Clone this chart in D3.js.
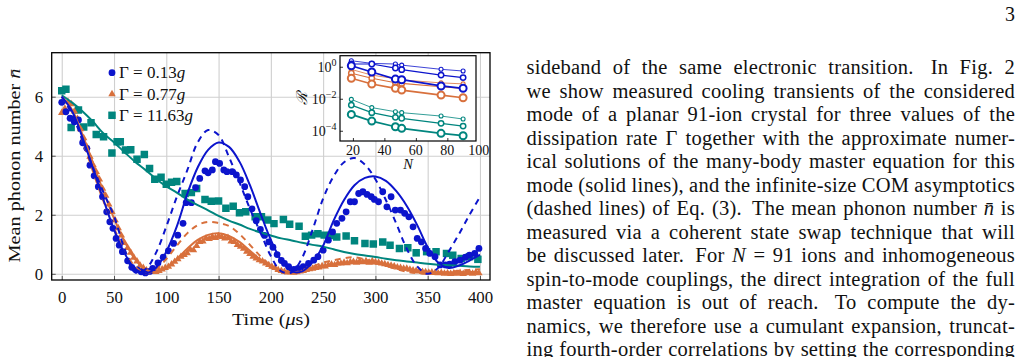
<!DOCTYPE html>
<html><head><meta charset="utf-8">
<script src="https://cdn.jsdelivr.net/npm/d3@7"></script>
<style>
html,body{margin:0;padding:0;background:#fff;overflow:hidden;}
svg{display:block;}
text{font-family:"Liberation Serif","Times New Roman",serif;fill:#111;}
</style></head><body>
<svg id="c" width="1023" height="357"></svg>
<script>
// ---------------- DATA ----------------
const xTicks = [0,50,100,150,200,250,300,350,400];
const yTicks = [0,2,4,6];
const legendLabels = ["0.13","0.77","11.63"];

const blueT = [0,4,8,12,16,20,24,27,31,35,39,43,46,49,52,55,58,63,67,72,76,80,84,87,92,97,102,107,111,116,119,124,128,132,137,140,144,147,151,155,158,163,167,171,175,178,182,186,190,194,198,202,206,210,213,217,222,226,231,236,241,245,250,255,259,263,268,272,276,280,284,288,292,296,299,303,307,311,315,319,324,328,332,336,340,344,348,352,357,362,367,371,376,381,386,390,395,399];
const blueN = [5.81,5.49,5.27,5.15,5.21,4.44,4.25,3.68,3.32,2.95,2.61,2.1,1.76,1.54,1.2,0.97,0.75,0.44,0.22,0.13,0.07,0.03,0.08,0.18,0.37,0.56,0.78,1.03,1.31,1.71,2.41,2.41,2.92,3.23,3.49,3.42,3.52,3.8,3.74,3.52,3.46,3.46,3.35,3.18,2.95,2.61,2.2,1.8,1.5,1.3,1.08,0.9,0.65,0.45,0.35,0.24,0.15,0.18,0.24,0.35,0.46,0.58,0.8,1.14,1.42,1.71,1.88,2.1,2.44,2.44,2.72,2.78,2.69,2.61,2.52,2.44,2.78,2.27,2.61,2.16,2.16,2.05,1.93,1.59,1.2,1.08,0.86,0.69,0.58,0.3,0.3,0.33,0.41,0.46,0.56,0.63,0.69,0.86];

const orangeT = [0,3,6,9,12,15,18,21,24,27,30,33,36,39,42,45,48,51,54,57,60,63,66,69,72,75,78,81,84,87,90,93,96,99,102,105,108,111,114,117,120,123,126,129,132,135,138,141,144,147,150,153,156,159,162,165,168,171,174,177,180,183,186,189,192,195,198,201,204,207,210,213,216,219,222,225,228,231,234,237,240,243,246,249,252,255,258,261,264,267,270,273,276,279,282,285,288,291,294,297,300,303,306,309,312,315,318,321,324,327,330,333,336,339,342,345,348,351,354,357,360,363,366,369,372,375,378,381,384,387,390,393,396,399];
const orangeN = [5.45,5.6,5.83,5.75,5.5,5.25,4.9,4.6,4.3,3.97,
 3.68,3.45,3.2,2.89,2.65,2.35,2.1,1.82,1.55,1.3,
 1.05,0.88,0.72,0.55,0.42,0.28,0.2,0.12,0.08,0.07,
 0.07,0.1,0.15,0.2,0.24,0.32,0.41,0.5,0.58,0.64,
 0.7,0.82,0.8,0.95,1.08,1.1,1.2,1.18,1.25,1.22,
 1.28,1.25,1.2,1.22,1.1,1.08,0.98,0.92,0.85,0.75,
 0.68,0.58,0.52,0.46,0.42,0.35,0.3,0.24,0.2,0.13,
 0.1,0.07,0.05,0.06,0.04,0.06,0.08,0.1,0.13,0.16,
 0.18,0.2,0.22,0.26,0.25,0.3,0.32,0.3,0.35,0.35,
 0.38,0.36,0.4,0.41,0.38,0.42,0.4,0.43,0.38,0.43,
 0.4,0.38,0.35,0.33,0.3,0.28,0.25,0.22,0.2,0.18,
 0.18,0.14,0.12,0.1,0.08,0.07,0.06,0.04,0.05,0.03,
 0.02,0.03,0.01,0.02,0.0,0.02,0.01,0.03,0.0,0.02,
 0.03,0.01,0.04,0.02];

const tealT = [0,4,9,16,21,28,33,40,48,53,56,61,66,72,79,84,89,95,100,105,110,118,124,129,137,143,150,157,164,170,176,185,191,197,203,212,218,227,233,239,245,251,257,263,272,280,290,298,307,314,323,331,339,349,358,368,374,382,390,398];
const tealN = [6.2,6.25,4.96,5.55,4.97,5.12,4.72,4.64,4.09,4.47,4.47,4.19,4.2,3.88,4.04,3.57,3.2,3.27,3.03,3.1,3.13,2.72,2.75,2.89,2.52,2.46,2.47,2.22,2.29,2.07,2.1,1.93,1.93,1.82,1.7,1.84,1.68,1.61,1.27,1.31,1.36,1.31,1.3,1.25,1.28,1.12,1.03,1.01,1.08,0.97,0.86,0.88,0.71,0.75,0.75,0.69,0.63,0.52,0.58,0.49];

// theory curves, sampled every 10 us
const curveT = [0,10,20,30,40,50,60,70,80,90,100,110,120,130,140,150,160,170,180,190,200,210,220,230,240,250,260,270,280,290,300,310,320,330,340,350,360,370,380,390,400];
const blueSolid  = [6.0,5.5,4.6,3.55,2.5,1.5,0.7,0.18,0.02,0.2,0.75,1.6,2.7,3.6,4.2,4.45,4.3,3.8,3.0,2.05,1.15,0.45,0.08,0.08,0.4,0.95,1.8,2.5,3.0,3.25,3.3,3.15,2.8,2.3,1.65,0.9,0.38,0.2,0.28,0.45,0.65];
const blueDashed = [6.0,5.4,4.5,3.6,2.75,1.95,0.85,0.05,0.15,0.7,1.6,2.6,3.5,4.45,4.87,4.7,3.95,3.1,2.2,1.4,0.6,0.08,0.05,0.55,1.5,2.55,3.3,3.78,3.92,3.7,3.2,2.5,1.7,0.85,0.25,0.0,0.2,0.75,1.35,2.0,2.6];
const orangeSolid  = [6.0,5.55,4.7,3.75,2.78,1.88,1.1,0.5,0.15,0.06,0.2,0.5,0.85,1.15,1.32,1.37,1.28,1.08,0.78,0.48,0.22,0.08,0.05,0.08,0.16,0.25,0.31,0.35,0.37,0.37,0.35,0.3,0.23,0.16,0.1,0.06,0.04,0.04,0.05,0.06,0.07];
const orangeDashed = [6.0,5.45,4.5,3.45,2.45,1.55,0.8,0.25,0.02,0.15,0.5,0.95,1.37,1.65,1.76,1.72,1.62,1.35,0.98,0.6,0.28,0.06,0.03,0.12,0.25,0.38,0.46,0.53,0.56,0.49,0.4,0.28,0.16,0.07,0.02,0.0,0.02,0.06,0.1,0.13,0.15];
const tealSolid = [6.05,5.8,5.5,5.15,4.75,4.45,4.12,3.8,3.52,3.22,2.96,2.75,2.52,2.33,2.15,1.96,1.8,1.67,1.52,1.4,1.3,1.2,1.13,1.05,0.98,0.92,0.83,0.74,0.67,0.62,0.57,0.51,0.46,0.42,0.38,0.34,0.31,0.29,0.27,0.25,0.24];

// inset: ratio R versus ion number N
const insetN = [19,32,47,51,76,90];
const insetXTicks = [20,40,60,80,100];
const insetYExp = [0,-2,-4];
const blueR1 = [2.37,1.62,1.48,1.26,0.69,0.54];
const blueR2 = [1.48,1.48,0.83,0.66,0.30,0.21];
const blueR3 = [1.15,0.47,0.17,0.155,0.063,0.045];
const orangeR1 = [0.68,0.30,0.18,0.15,0.098,0.085];
const orangeR2 = [0.39,0.19,0.10,0.091,0.056,0.045];
const orangeR3 = [0.19,0.083,0.045,0.035,0.017,0.0115];
const tealR1 = [0.0091,0.0028,0.00155,0.00135,0.00083,0.00054];
const tealR2 = [0.004,0.00135,0.00069,0.0006,0.00029,0.000195];
const tealR3 = [0.00105,0.0004,0.000178,0.000141,0.000069,0.000049];

const textLines = [
 "sideband of the same electronic transition.  In Fig. 2",
 "we show measured cooling transients of the considered",
 "mode of a planar 91-ion crystal for three values of the",
 "dissipation rate Γ together with the approximate numer-",
 "ical solutions of the many-body master equation for this",
 "mode (solid lines), and the infinite-size COM asymptotics",
 "(dashed lines) of Eq. (3).  The mean phonon number *n\u0304* is",
 "measured via a coherent state swap technique that will",
 "be discussed later.  For *N* = 91 ions and inhomogeneous",
 "spin-to-mode couplings, the direct integration of the full",
 "master equation is out of reach.  To compute the dy-",
 "namics, we therefore use a cumulant expansion, truncat-",
 "ing fourth-order correlations by setting the corresponding"
];

// ---------------- DRAW ----------------
const SERIF="Liberation Serif";
const BLUE="#0c14cc", ORANGE="#d8703c", TEAL="#00857e";
const svg=d3.select("#c");
const X0=51.7, X1=490, Y0=52.7, Y1=280;
const x=d3.scaleLinear().domain([-9.6,409.6]).range([X0,X1]);
const y=d3.scaleLinear().domain([-0.21,7.49]).range([Y1,Y0]);

// grid
svg.append("g").attr("transform",`translate(0,${Y1})`)
 .call(d3.axisBottom(x).tickValues(xTicks).tickSize(-(Y1-Y0)).tickFormat(""))
 .call(g=>{g.select(".domain").remove();g.selectAll("line").attr("stroke","#cfcfcf").attr("stroke-width",1.1);});
svg.append("g").attr("transform",`translate(${X0},0)`)
 .call(d3.axisLeft(y).tickValues(yTicks).tickSize(-(X1-X0)).tickFormat(""))
 .call(g=>{g.select(".domain").remove();g.selectAll("line").attr("stroke","#cfcfcf").attr("stroke-width",1.1);});

// tick marks + labels
svg.append("g").attr("transform",`translate(0,${Y1})`)
 .call(d3.axisBottom(x).tickValues(xTicks).tickSizeInner(-4).tickSizeOuter(0).tickPadding(10.8))
 .call(g=>{g.select(".domain").remove();g.selectAll("line").attr("stroke","#555");
   g.selectAll("text").attr("font-size","16.8px").attr("font-family",SERIF).attr("fill","#111");});
svg.append("g").attr("transform",`translate(${X0},0)`)
 .call(d3.axisLeft(y).tickValues(yTicks).tickSizeInner(-4).tickSizeOuter(0).tickPadding(8.5))
 .call(g=>{g.select(".domain").remove();g.selectAll("line").attr("stroke","#555");
   g.selectAll("text").attr("font-size","16.8px").attr("font-family",SERIF).attr("fill","#111");});

svg.append("clipPath").attr("id","pc").append("rect").attr("x",X0).attr("y",Y0).attr("width",X1-X0).attr("height",Y1-Y0);
const plot=svg.append("g").attr("clip-path","url(#pc)");

const zip=(a,b)=>a.slice(0,Math.min(a.length,b.length)).map((v,i)=>[v,b[i]]);

// scatter
plot.append("g").selectAll("path").data(zip(tealT,tealN)).join("path")
 .attr("d",d3.symbol().type(d3.symbolSquare).size(56)())
 .attr("transform",d=>`translate(${x(d[0])},${y(d[1])})`).attr("fill",TEAL);
plot.append("g").selectAll("path").data(zip(orangeT,orangeN)).join("path")
 .attr("d",d3.symbol().type(d3.symbolTriangle).size(24)())
 .attr("transform",d=>`translate(${x(d[0])},${y(d[1])})`).attr("fill",ORANGE);
plot.append("g").selectAll("circle").data(zip(blueT,blueN)).join("circle")
 .attr("cx",d=>x(d[0])).attr("cy",d=>y(d[1])).attr("r",3.4).attr("fill",BLUE);

// lines
const ln=d3.line().x(d=>x(d[0])).y(d=>y(d[1])).curve(d3.curveCatmullRom.alpha(0.5));
const lines=[[tealSolid,TEAL,null],[orangeSolid,ORANGE,null],[orangeDashed,ORANGE,"6,5"],[blueSolid,BLUE,null],[blueDashed,BLUE,"6,5"]];
lines.forEach(([v,c,da])=>{
 plot.append("path").attr("d",ln(zip(curveT,v))).attr("fill","none").attr("stroke",c).attr("stroke-width",2).attr("stroke-dasharray",da);
});

// frame
svg.append("rect").attr("x",X0).attr("y",Y0).attr("width",X1-X0).attr("height",Y1-Y0).attr("fill","none").attr("stroke","#000").attr("stroke-width",1.3);

// axis labels
svg.append("text").attr("x",271).attr("y",325).attr("text-anchor","middle").attr("font-size","17px")
 .attr("textLength",78).attr("lengthAdjust","spacingAndGlyphs")
 .html('Time (<tspan font-style="italic">μ</tspan>s)');
svg.append("text").attr("transform","translate(20,165.5) rotate(-90)").attr("text-anchor","middle").attr("font-size","17px")
 .attr("textLength",194).attr("lengthAdjust","spacingAndGlyphs")
 .html('Mean phonon number <tspan font-style="italic">n\u0304</tspan>');

// legend
const legRows=[72.7,94,115.3];
const leg=svg.append("g");
leg.append("circle").attr("cx",112).attr("cy",legRows[0]).attr("r",3.4).attr("fill",BLUE);
leg.append("path").attr("d",d3.symbol().type(d3.symbolTriangle).size(24)()).attr("transform",`translate(112,${legRows[1]})`).attr("fill",ORANGE);
leg.append("path").attr("d",d3.symbol().type(d3.symbolSquare).size(56)()).attr("transform",`translate(112,${legRows[2]})`).attr("fill",TEAL);
legendLabels.forEach((l,i)=>{
 leg.append("text").attr("x",119).attr("y",legRows[i]+5.5).attr("font-size","17px")
  .html(`Γ = ${l}<tspan font-style="italic">g</tspan>`);
});

// ---------------- INSET ----------------
const IX0=340, IX1=476, IY0=55.7, IY1=141;
const xi=d3.scaleLinear().domain([11.8,98.2]).range([IX0,IX1]);
const yi=d3.scaleLog().domain([Math.pow(10,-4.64),Math.pow(10,0.69)]).range([IY1,IY0]);
svg.append("rect").attr("x",IX0).attr("y",IY0).attr("width",IX1-IX0).attr("height",IY1-IY0).attr("fill","#fff");
svg.append("g").attr("transform",`translate(0,${IY1})`)
 .call(d3.axisBottom(xi).tickValues([20,40,60,80]).tickSizeInner(-3).tickSizeOuter(0).tickFormat(""))
 .call(g=>{g.select(".domain").remove();g.selectAll("line").attr("stroke","#333");});
svg.append("g").attr("transform",`translate(${IX0},0)`)
 .call(d3.axisLeft(yi).tickValues(insetYExp.map(e=>Math.pow(10,e))).tickSizeInner(-3).tickSizeOuter(0).tickFormat(""))
 .call(g=>{g.select(".domain").remove();g.selectAll("line").attr("stroke","#333");});
const iln=d3.line().x(d=>xi(d[0])).y(d=>yi(d[1]));
const insetSeries=[
 [tealR1,TEAL,0.8,2.0],[tealR2,TEAL,1.2,2.7],[tealR3,TEAL,1.7,3.5],
 [orangeR1,ORANGE,0.8,2.0],[orangeR2,ORANGE,1.2,2.7],[orangeR3,ORANGE,1.7,3.5],
 [blueR1,BLUE,0.8,2.0],[blueR2,BLUE,1.2,2.7],[blueR3,BLUE,1.7,3.5]];
insetSeries.forEach(([v,c,w,r])=>{
 const pts=zip(insetN,v);
 svg.append("path").attr("d",iln(pts)).attr("fill","none").attr("stroke",c).attr("stroke-width",w);
 svg.append("g").selectAll("circle").data(pts).join("circle").attr("cx",d=>xi(d[0])).attr("cy",d=>yi(d[1])).attr("r",r)
  .attr("fill","#fff").attr("stroke",c).attr("stroke-width",w+0.3);
});
svg.append("rect").attr("x",IX0).attr("y",IY0).attr("width",IX1-IX0).attr("height",IY1-IY0).attr("fill","none").attr("stroke","#000").attr("stroke-width",1.2);
insetXTicks.forEach(v=>{
 svg.append("text").attr("x",xi(v)).attr("y",155).attr("text-anchor","middle").attr("font-size","14px").text(v);
});
insetYExp.forEach(e=>{
 const t=svg.append("text").attr("x",336.5).attr("y",yi(Math.pow(10,e))+5).attr("text-anchor","end").attr("font-size","14px");
 t.append("tspan").text("10");
 t.append("tspan").attr("dy",-6).attr("font-size","10px").text(e===0?"0":"\u2212"+(-e));
});
svg.append("text").attr("x",408).attr("y",169).attr("text-anchor","middle").attr("font-size","14.5px").attr("font-style","italic").text("N");
svg.append("text").attr("transform","translate(306.5,98) rotate(-90)").attr("text-anchor","middle").attr("font-size","15px").attr("font-style","italic").text("\u211B");

// ---------------- TEXT COLUMN ----------------
svg.append("text").attr("x",1015).attr("y",21).attr("text-anchor","end").attr("font-size","19.9px").attr("font-family",SERIF).text("3");
const colL=526.5, colR=1015, base0=74, lead=23.5, fs=20.5;
textLines.forEach((line,i)=>{
 const yy=base0+i*lead;
 const raw=line.split(" ");
 const words=[]; let extra=0;
 raw.forEach(tk=>{ if(tk===""){extra+=0.5;return;} words.push({tk,gapBefore:1+extra}); extra=0; });
 const nodes=words.map(w=>{
  const it=w.tk.startsWith("*")&&w.tk.endsWith("*")&&w.tk.length>2;
  const txt=it?w.tk.slice(1,-1):w.tk;
  const n=svg.append("text").attr("y",yy).attr("font-size",fs+"px").attr("font-family",SERIF)
    .attr("letter-spacing","0.25px").attr("font-style",it?"italic":null).text(txt);
  return {n,w:n.node().getComputedTextLength(),g:w.gapBefore};
 });
 const total=d3.sum(nodes,d=>d.w);
 const gw=d3.sum(nodes.slice(1),d=>d.g);
 const unit=(colR-colL-total)/gw;
 let cx=colL;
 nodes.forEach((d,k)=>{ if(k>0) cx+=unit*d.g; d.n.attr("x",cx); cx+=d.w; });
});
</script></body></html>
